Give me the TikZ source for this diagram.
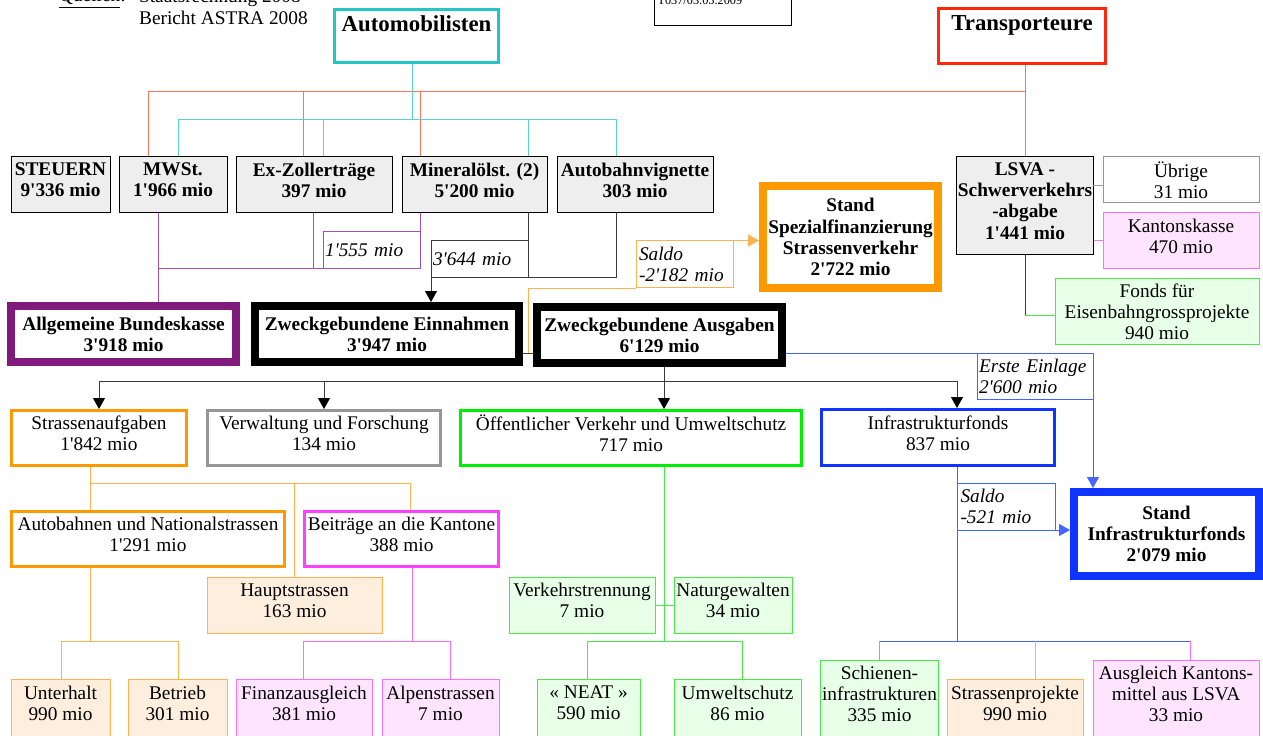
\documentclass[tikz,border=0pt]{standalone}
\usepackage{fontspec}
\newfontfamily\tnr{Liberation Serif}
\usepackage{tikz}
\usetikzlibrary{arrows.meta}

\definecolor{cyanb}{RGB}{35,197,197}
\definecolor{cyanl}{RGB}{90,208,208}
\definecolor{redb}{RGB}{255,40,10}
\definecolor{redl}{RGB}{250,115,95}
\definecolor{purpb}{RGB}{128,26,124}
\definecolor{purpl}{RGB}{165,80,180}
\definecolor{orab}{RGB}{255,153,0}
\definecolor{oral}{RGB}{255,178,80}
\definecolor{orafill}{RGB}{253,238,221}
\definecolor{greb}{RGB}{0,238,0}
\definecolor{grel}{RGB}{70,235,70}
\definecolor{grefill}{RGB}{232,255,232}
\definecolor{magb}{RGB}{255,64,255}
\definecolor{magl}{RGB}{255,110,255}
\definecolor{magfill}{RGB}{255,228,255}
\definecolor{blub}{RGB}{16,52,255}
\definecolor{blul}{RGB}{70,100,255}
\definecolor{grayb}{RGB}{150,150,150}
\definecolor{grayfill}{RGB}{238,238,238}
\definecolor{darkl}{RGB}{60,60,60}

\begin{document}
\begin{tikzpicture}[
x=0.02cm, y=-0.02cm,
every node/.style={font=\tnr\fontsize{11}{12}\selectfont, align=center, inner sep=1pt},
sz/.style 2 args={minimum width=#1*0.02cm, minimum height=#2*0.02cm},
gbox/.style={draw=black, line width=0.02cm, fill=grayfill, font=\tnr\fontsize{11}{12}\selectfont\bfseries, text depth=0.2cm},
head/.style={line width=0.06cm, font=\tnr\fontsize{13}{15}\selectfont\bfseries, text depth=0.5cm},
big/.style={line width=0.16cm, font=\tnr\fontsize{11}{12}\selectfont\bfseries},
mid/.style={line width=0.06cm, text depth=0.18cm},
sub/.style={line width=0.02cm},
up/.style={text depth=0.18cm},
cut/.style={line width=0.02cm, text depth=0.36cm},
lbl/.style={line width=0.02cm, font=\tnr\fontsize{11}{12}\selectfont\itshape, align=left},
conn/.style={line width=0.02cm},
arr/.style={-{Triangle[length=0.22cm,width=0.24cm]}},
arrk/.style={-{Triangle[length=0.22cm,width=0.24cm,color=black]}}
]
\useasboundingbox (0,0) rectangle (1263,736);

\node[anchor=base west] at (57,2)
(q) {\underline{Quellen}:};
\node[anchor=base west] at (137,3)
(q1) {Staatsrechnung 2008};
\node[anchor=base west] at (137,25)
(q2) {Bericht ASTRA 2008};
\node[draw=black, sub, sz={137}{56}, align=left, text width=2.6cm, font=\tnr\fontsize{7}{8}\selectfont] at (722.5,-2)
(dat) {\\T037/03.05.2009};

\node[head, draw=cyanb, sz={164}{53}] at (416.5,36)
(auto) {Automobilisten};
\node[head, draw=redb, sz={167}{55}] at (1022,36)
(trans) {Transporteure};

\node[gbox, sz={99}{56}] at (60.5,185)
(st) {STEUERN\\9'336 mio};
\node[gbox, sz={108}{56}] at (173,185)
(mw) {MWSt.\\1'966 mio};
\node[gbox, sz={156}{56}] at (314,185)
(ez) {Ex-Zollerträge\\397 mio};
\node[gbox, sz={145}{56}] at (474.5,185)
(mo) {Mineralölst. (2)\\5'200 mio};
\node[gbox, sz={156}{56}] at (635,185)
(av) {Autobahnvignette\\303 mio};
\node[gbox, sz={136}{98}] at (1025,206)
(ls) {LSVA -\\Schwerverkehrs\\-abgabe\\1'441 mio};
\node[sub, draw=grayb, fill=white, sz={156}{46}] at (1181,180)
(ub) {Übrige\\31 mio};
\node[sub, up, draw=magl, fill=magfill, sz={156}{56}] at (1181,241)
(kk) {Kantonskasse\\470 mio};
\node[sub, draw=grel, fill=grefill, sz={204}{65}] at (1157,311.5)
(fo) {Fonds für\\Eisenbahngrossprojekte\\940 mio};

\node[big, draw=orab, sz={175}{102}] at (850.5,237)
(sf) {Stand\\Spezialfinanzierung\\Strassenverkehr\\2'722 mio};
\node[big, draw=purpb, sz={225}{56}] at (123.5,334)
(ab) {Allgemeine Bundeskasse\\3'918 mio};
\node[big, draw=black, sz={264}{56}] at (387,334)
(ze) {Zweckgebundene Einnahmen\\3'947 mio};
\node[big, draw=black, sz={245}{56}] at (659.5,335)
(za) {Zweckgebundene Ausgaben\\6'129 mio};

\node[mid, draw=orab, sz={175}{55}] at (99,438)
(sa) {Strassenaufgaben\\1'842 mio};
\node[mid, draw=grayb, sz={233}{55}] at (324,438)
(vf) {Verwaltung und Forschung\\134 mio};
\node[mid, draw=greb, sz={341}{55}] at (631,438)
(oe) {Öffentlicher Verkehr und Umweltschutz\\717 mio};
\node[mid, draw=blub, sz={233}{56}] at (938,437.5)
(inf) {Infrastrukturfonds\\837 mio};
\node[big, draw=blub, sz={185}{84}] at (1166.5,534)
(si) {Stand\\Infrastrukturfonds\\2'079 mio};

\node[mid, draw=orab, sz={273}{55}] at (148,539)
(an) {Autobahnen und Nationalstrassen\\1'291 mio};
\node[mid, draw=magb, sz={194}{55}] at (401.5,539)
(ba) {Beiträge an die Kantone\\388 mio};
\node[sub, up, draw=oral, fill=orafill, sz={175}{56}] at (294.5,605)
(hs) {Hauptstrassen\\163 mio};
\node[sub, up, draw=grel, fill=grefill, sz={146}{56}] at (582,605)
(vt) {Verkehrstrennung\\7 mio};
\node[sub, up, draw=grel, fill=grefill, sz={118}{56}] at (733,605)
(ng) {Naturgewalten\\34 mio};

\node[cut, draw=oral, fill=orafill, sz={99}{66}] at (60.5,712)
(un) {Unterhalt\\990 mio};
\node[cut, draw=oral, fill=orafill, sz={99}{66}] at (177.5,712)
(be) {Betrieb\\301 mio};
\node[cut, draw=magl, fill=magfill, sz={136}{66}] at (304,712)
(fa) {Finanzausgleich\\381 mio};
\node[cut, draw=magl, fill=magfill, sz={117}{66}] at (440.5,712)
(ap) {Alpenstrassen\\7 mio};
\node[cut, draw=grel, fill=grefill, sz={103}{66}] at (588.5,712)
(ne) {« NEAT »\\590 mio};
\node[cut, draw=grel, fill=grefill, sz={127}{66}] at (737.5,712)
(uw) {Umweltschutz\\86 mio};
\node[cut, draw=grel, fill=grefill, sz={117}{85}] at (879.5,702.5)
(sc) {Schienen-\\infrastrukturen\\335 mio};
\node[cut, draw=oral, fill=orafill, sz={136}{66}] at (1015,712)
(sp) {Strassenprojekte\\990 mio};
\node[cut, draw=magl, fill=magfill, sz={166}{85}] at (1176,702.5)
(ak) {Ausgleich Kantons-\\mittel aus LSVA\\33 mio};

\node[lbl, draw=purpl, sz={97}{37}, text width=1.86cm] at (371.5,250.5)
(l1) {1'555 mio};
\node[lbl, draw=darkl, sz={97}{37}, text width=1.86cm] at (479.5,259.5)
(l2) {3'644 mio};
\node[lbl, draw=oral, sz={97}{47}, text width=1.82cm] at (684.5,264.5)
(l3) {Saldo\\-2'182 mio};
\node[lbl, draw=blul, sz={116}{46}, text width=2.24cm] at (1035,376)
(l4) {Erste Einlage\\2'600 mio};
\node[lbl, draw=blul, sz={98}{47}, text width=1.82cm] at (1006,506.5)
(l5) {Saldo\\-521 mio};

\coordinate (rdl) at (148,92);
\coordinate (rdr) at (1025,92);
\draw[conn, redl] (rdl |- mw.north) -- (rdl) -- (rdr);
\draw[conn, redl] (trans.south -| rdr) -- (ls.north -| rdr);
\foreach \x/\n in {303/ez, 420/mo}{
\coordinate (t) at (\x,92);
\draw[conn, redl] (t) -- (t |- \n.north);
}

\coordinate (cy) at (412,120);
\coordinate (cyl) at (178,120);
\coordinate (cyr) at (616,120);
\draw[conn, cyanl] (auto.south -| cy) -- (cy);
\draw[conn, cyanl] (cyl |- mw.north) -- (cyl) -- (cyr) -- (cyr |- av.north);
\foreach \x/\n in {323/ez, 528/mo}{
\coordinate (t) at (\x,120);
\draw[conn, cyanl] (t) -- (t |- \n.north);
}

\coordinate (pl) at (158,269);
\coordinate (pr) at (420,269);
\coordinate (pz) at (313,269);
\draw[conn, purpl] (mw.south -| pl) -- (ab.north -| pl);
\draw[conn, purpl] (pl) -- (pr) -- (pr |- mo.south);
\draw[conn, purpl] (pz |- ez.south) -- (pz);

\coordinate (dl) at (431,278);
\coordinate (dm) at (528,278);
\coordinate (dr) at (616,278);
\draw[conn, darkl] (dr |- av.south) -- (dr) -- (dl);
\draw[conn, darkl] (dm |- mo.south) -- (dm);
\draw[conn, darkl, arrk] (dl) -- (dl |- ze.north);

\coordinate (zl) at (528,353);
\draw[conn, darkl] (ze.east |- zl) -- (za.west |- zl);
\draw[conn, oral] (zl) |- (l3.south west);
\draw[conn, oral, arr] (l3.north east) -- (l3.north east -| sf.west);

\coordinate (bl) at (1093,353);
\draw[conn, blul] (za.east |- bl) -- (bl);
\draw[conn, blul, arr] (bl) -- (bl |- si.north);

\coordinate (ja) at (664,381);
\coordinate (jl) at (99,381);
\coordinate (jr) at (957,381);
\draw[conn, darkl] (za.south -| ja) -- (ja);
\draw[conn, darkl] (jl) -- (jr);
\draw[conn, darkl, arrk] (jl) -- (sa.north);
\draw[conn, darkl, arrk] (jl -| vf.north) -- (vf.north);
\draw[conn, darkl, arrk] (ja) -- (ja |- oe.north);
\draw[conn, darkl, arrk] (jr) -- (jr |- inf.north);

\coordinate (lu) at (1093,186);
\coordinate (lf) at (1025,315);
\draw[conn, grayb] (lu) -- (ub.west |- lu);
\draw[conn, magl] (ls.east |- kk) -- (kk.west);
\draw[conn, darkl] (ls.south) -- (lf);
\draw[conn, grel] (lf) -- (fo.west |- lf);

\coordinate (sl) at (90,483);
\coordinate (sr) at (410,483);
\draw[conn, oral] (sa.south -| sl) -- (sl) -- (sr) -- (sr |- ba.north);
\draw[conn, oral] (sl) -- (sl |- an.north);
\draw[conn, oral] (hs.north |- sl) -- (hs.north);

\coordinate (am) at (90,641);
\coordinate (al) at (61,641);
\coordinate (ar) at (178,641);
\draw[conn, oral] (an.south -| am) -- (am);
\draw[conn, oral] (al |- un.north) -- (al) -- (ar) -- (ar |- be.north);

\coordinate (km) at (412,641);
\coordinate (kl) at (303,641);
\coordinate (kr) at (450,641);
\draw[conn, magl] (ba.south -| km) -- (km);
\draw[conn, magl] (kl |- fa.north) -- (kl) -- (kr) -- (kr |- ap.north);

\coordinate (gm) at (664,641);
\coordinate (gl) at (587,641);
\coordinate (gr) at (742,641);
\draw[conn, grel] (oe.south -| gm) -- (gm);
\draw[conn, grel] (vt.east) -- (ng.west);
\draw[conn, grel] (gl |- ne.north) -- (gl) -- (gr) -- (gr |- uw.north);

\coordinate (im) at (957,641);
\coordinate (is) at (957,530);
\coordinate (il) at (879,641);
\coordinate (ip) at (1035,641);
\coordinate (ir) at (1190,641);
\draw[conn, blul] (inf.south -| im) -- (im);
\draw[conn, blul, arr] (is) -- (is -| si.west);
\draw[conn, blul] (il) -- (ir);
\draw[conn, grel] (il) -- (il |- sc.north);
\draw[conn, oral] (ip) -- (ip |- sp.north);
\draw[conn, magl] (ir) -- (ir |- ak.north);

\end{tikzpicture}
\end{document}
